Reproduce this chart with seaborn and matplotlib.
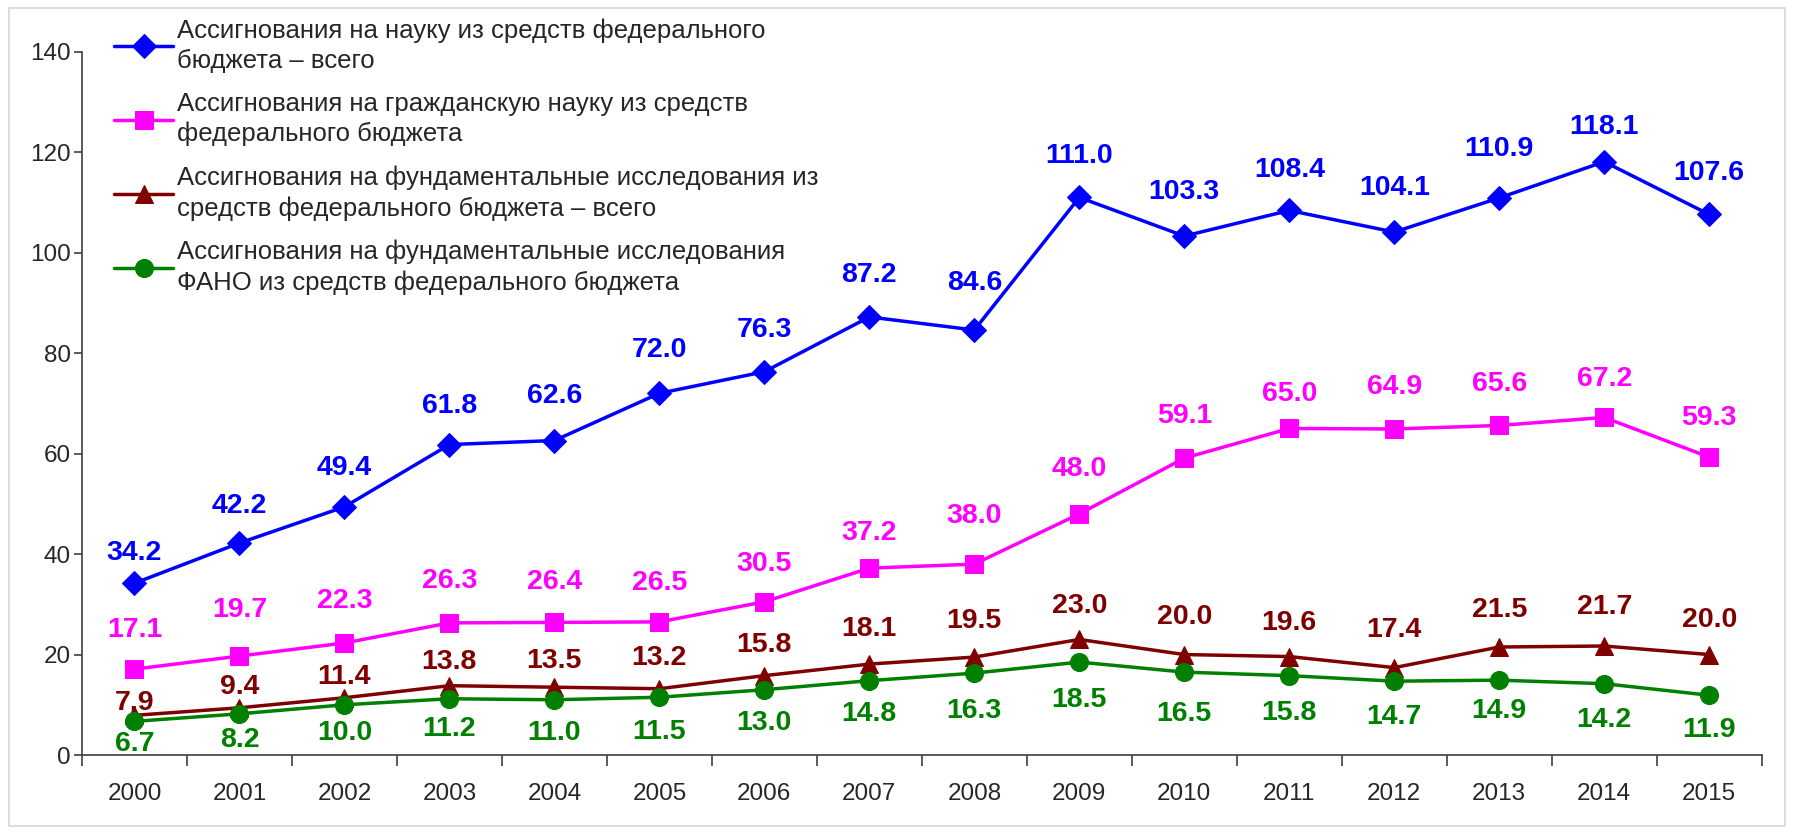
import numpy as np
import pandas as pd
import matplotlib.pyplot as plt
import matplotlib.patches as mpatches
import seaborn as sns

years = list(range(2000, 2016))

total = [34.2, 42.2, 49.4, 61.8, 62.6, 72.0, 76.3, 87.2, 84.6, 111.0,
         103.3, 108.4, 104.1, 110.9, 118.1, 107.6]
civil = [17.1, 19.7, 22.3, 26.3, 26.4, 26.5, 30.5, 37.2, 38.0, 48.0,
         59.1, 65.0, 64.9, 65.6, 67.2, 59.3]
fundamental = [7.9, 9.4, 11.4, 13.8, 13.5, 13.2, 15.8, 18.1, 19.5, 23.0,
               20.0, 19.6, 17.4, 21.5, 21.7, 20.0]
fano = [6.7, 8.2, 10.0, 11.2, 11.0, 11.5, 13.0, 14.8, 16.3, 18.5,
        16.5, 15.8, 14.7, 14.9, 14.2, 11.9]

names = [
    'Ассигнования на науку из средств федерального\nбюджета – всего',
    'Ассигнования на гражданскую науку из средств\nфедерального бюджета',
    'Ассигнования на фундаментальные исследования из\nсредств федерального бюджета – всего',
    'Ассигнования на фундаментальные исследования\nФАНО из средств федерального бюджета',
]
series = [total, civil, fundamental, fano]
colors = ['#0000FF', '#FF00FF', '#800000', '#008000']
markers = ['D', 's', '^', 'o']
msizes = [12, 13.5, 13, 13]

# where each value label sits above (+) or below (-) its point, in points
label_dy = [
    [22, 27, 28, 28, 32, 31, 30, 30, 34, 30, 32, 29, 32, 35, 25, 30],
    [28, 33, 30, 30, 29, 28, 27, 25, 35, 32, 30, 25, 30, 30, 28, 28],
    [9, 15, 15, 17, 19, 22, 22, 25, 26, 24, 27, 24, 27, 27, 28, 25],
    [-16, -19, -20, -22, -24, -25, -24, -24, -27, -27, -30, -27, -26, -22, -26, -25],
]

df = pd.concat([pd.DataFrame({'year': years, 'value': s, 'series': n})
                for s, n in zip(series, names)], ignore_index=True)

sns.set_style('white')
plt.rcParams['font.family'] = ['Liberation Sans', 'DejaVu Sans']

fig = plt.figure(figsize=(17.94, 8.34), dpi=100)
ax = fig.add_axes([0.0457, 0.0947, 0.9363, 0.8433])

for n, c, m, ms in zip(names, colors, markers, msizes):
    sns.lineplot(data=df[df.series == n], x='year', y='value', color=c,
                 marker=m, markersize=ms, markeredgecolor=c, linewidth=2.5,
                 label=n, ax=ax)

for s, c, dys in zip(series, colors, label_dy):
    for x, v, dy in zip(years, s, dys):
        ax.annotate(f'{v:.1f}', (x, v), xytext=(0, dy), textcoords='offset points',
                    ha='center', va='center', color=c, fontsize=20.5,
                    fontweight='bold')

ax.set_xlim(1999.5, 2015.5)
ax.set_ylim(0, 140)
ax.set_yticks(range(0, 141, 20))
ax.set_xticks(years)
ax.set_xticks(np.arange(1999.5, 2016, 1), minor=True)
ax.tick_params(axis='x', which='major', length=0, pad=20, labelsize=17.5)
ax.tick_params(axis='x', which='minor', length=8, width=1.2, color='#404040',
               direction='out', bottom=True)
ax.tick_params(axis='y', length=6, width=1.2, color='#404040', direction='out',
               left=True, labelsize=17.5, pad=2)
ax.set_xlabel('')
ax.set_ylabel('')
for side in ['top', 'right']:
    ax.spines[side].set_visible(False)
for side in ['left', 'bottom']:
    ax.spines[side].set_color('#404040')
    ax.spines[side].set_linewidth(1.2)

ax.legend_.remove()
handles, labels = ax.get_legend_handles_labels()
leg = fig.legend(handles, labels, loc='upper left',
                 bbox_to_anchor=(0.058, 0.99), frameon=False, fontsize=18.5,
                 handlelength=2.3, handletextpad=0.15, labelspacing=0.75,
                 borderaxespad=0)
for t in leg.get_texts():
    t.set_linespacing(1.3)

fig.patches.append(mpatches.Rectangle((0.005, 0.01), 0.99, 0.98,
                                      transform=fig.transFigure, fill=False,
                                      edgecolor='#d8d8d8', linewidth=1.2))

fig.savefig('out.png', dpi=100)
